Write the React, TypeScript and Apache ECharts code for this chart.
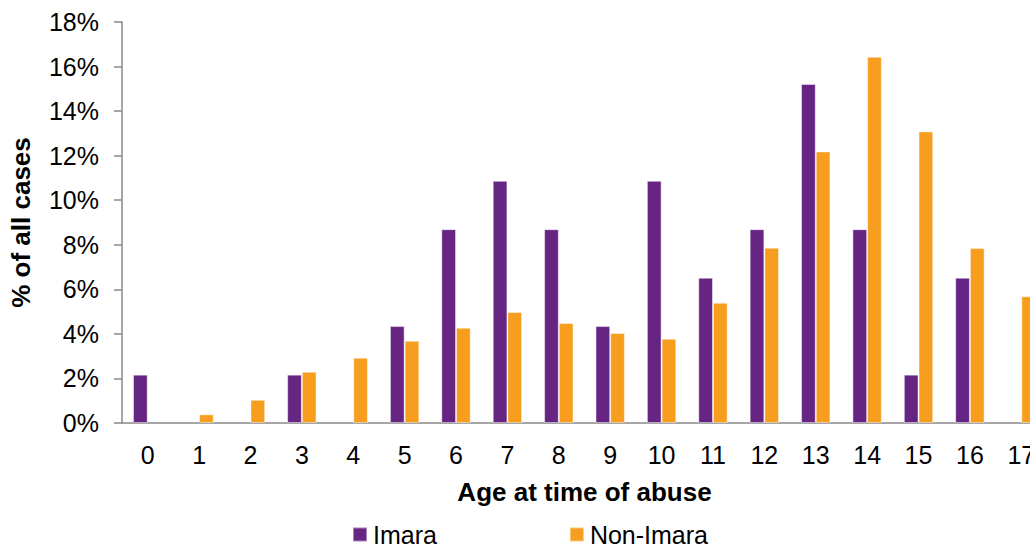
import React, { useEffect, useRef } from "react";
import * as echarts from "echarts";

const categories = ["0", "1", "2", "3", "4", "5", "6", "7", "8", "9", "10", "11", "12", "13", "14", "15", "16", "17"];
const imara = [2.17, 0, 0, 2.17, 0, 4.35, 8.7, 10.87, 8.7, 4.35, 10.87, 6.52, 8.7, 15.22, 8.7, 2.17, 6.52, 0];
const nonImara = [0, 0.39, 1.04, 2.3, 2.93, 3.69, 4.28, 4.98, 4.49, 4.04, 3.78, 5.4, 7.87, 12.19, 16.44, 13.09, 7.85, 5.69];
const seriesNames = ["Imara", "Non-Imara"];
const yTicks = { min: 0, max: 18, interval: 2 };

const FONT = "'Liberation Sans', Arial, sans-serif";
const noZero = (arr: number[]) => arr.map((v) => (v === 0 ? null : v));

export default function App() {
  const ref = useRef<HTMLDivElement>(null);
  useEffect(() => {
    if (!ref.current) return;
    const chart = echarts.init(ref.current, undefined, { renderer: "svg" });
    chart.setOption({
      animation: false,
      textStyle: { fontFamily: FONT },
      grid: { left: 122, top: 22, bottom: 125, right: 3 },
      legend: {
        left: 352,
        top: 522,
        padding: 0,
        itemWidth: 14,
        itemHeight: 14,
        itemGap: 132,
        icon: "rect",
        textStyle: { fontSize: 25, color: "#000", fontFamily: FONT, padding: [0, 0, 0, 1] },
        data: seriesNames,
      },
      xAxis: {
        type: "category",
        data: categories,
        name: "Age at time of abuse",
        nameLocation: "middle",
        nameGap: 56,
        nameTextStyle: { fontSize: 26, fontWeight: "bold", color: "#000", fontFamily: FONT },
        axisLine: { lineStyle: { color: "#898989", width: 1.5 } },
        axisTick: { show: false },
        axisLabel: { fontSize: 25, color: "#000", margin: 19, fontFamily: FONT },
      },
      yAxis: {
        type: "value",
        min: yTicks.min,
        max: yTicks.max,
        interval: yTicks.interval,
        name: "% of all cases",
        nameLocation: "middle",
        nameGap: 88,
        nameTextStyle: { fontSize: 26, fontWeight: "bold", color: "#000", fontFamily: FONT },
        axisLine: { show: true, lineStyle: { color: "#898989", width: 1.5 } },
        axisTick: { show: true, length: 8, lineStyle: { color: "#898989", width: 1.5 } },
        splitLine: { show: false },
        axisLabel: { fontSize: 25, color: "#000", margin: 23, formatter: "{value}%", fontFamily: FONT },
      },
      series: [
        {
          name: seriesNames[0],
          type: "bar",
          data: noZero(imara),
          barWidth: 14.7,
          barGap: "0%",
          itemStyle: { color: "#662483", borderColor: "rgba(255,255,255,0.45)", borderWidth: 1 },
        },
        {
          name: seriesNames[1],
          type: "bar",
          data: noZero(nonImara),
          barWidth: 14.7,
          barGap: "0%",
          itemStyle: { color: "#F79E1F", borderColor: "rgba(255,255,255,0.45)", borderWidth: 1 },
        },
      ],
    });
    return () => chart.dispose();
  }, []);
  return (
    <div style={{ position: "absolute", left: 0, top: 0, width: 1030, height: 548, overflow: "hidden", background: "#fff" }}>
      <div ref={ref} style={{ width: 1050, height: 548 }} />
    </div>
  );
}
